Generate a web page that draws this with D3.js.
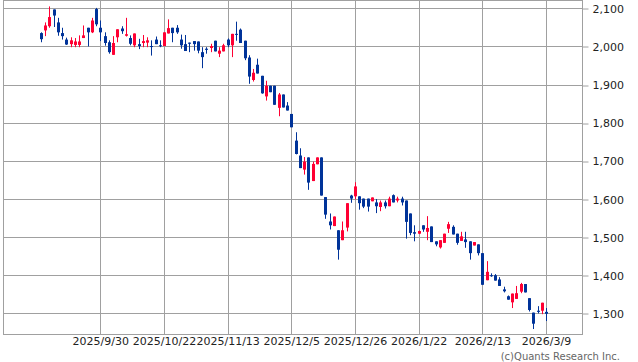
<!DOCTYPE html>
<html><head><meta charset="utf-8">
<script src="https://cdn.jsdelivr.net/npm/d3@7"></script>
<style>
html,body{margin:0;padding:0;background:#fff;}
svg{display:block;font-family:"DejaVu Sans",sans-serif;}
</style></head>
<body>
<svg id="chart" width="638" height="362"></svg>
<script>
const dates = [
"2025/9/8","2025/9/9","2025/9/10","2025/9/11","2025/9/12","2025/9/16","2025/9/17","2025/9/18","2025/9/19","2025/9/22",
"2025/9/24","2025/9/25","2025/9/26","2025/9/29","2025/9/30","2025/10/1","2025/10/2","2025/10/3","2025/10/6","2025/10/7",
"2025/10/8","2025/10/9","2025/10/10","2025/10/14","2025/10/15","2025/10/16","2025/10/17","2025/10/20","2025/10/21","2025/10/22",
"2025/10/23","2025/10/24","2025/10/27","2025/10/28","2025/10/29","2025/10/30","2025/10/31","2025/11/4","2025/11/5","2025/11/6",
"2025/11/7","2025/11/10","2025/11/11","2025/11/12","2025/11/13","2025/11/14","2025/11/17","2025/11/18","2025/11/19","2025/11/20",
"2025/11/21","2025/11/25","2025/11/26","2025/11/27","2025/11/28","2025/12/1","2025/12/2","2025/12/3","2025/12/4","2025/12/5",
"2025/12/8","2025/12/9","2025/12/10","2025/12/11","2025/12/12","2025/12/15","2025/12/16","2025/12/17","2025/12/18","2025/12/19",
"2025/12/22","2025/12/23","2025/12/24","2025/12/25","2025/12/26","2025/12/29","2025/12/30","2026/1/5","2026/1/6","2026/1/7",
"2026/1/8","2026/1/9","2026/1/13","2026/1/14","2026/1/15","2026/1/16","2026/1/19","2026/1/20","2026/1/21","2026/1/22",
"2026/1/23","2026/1/26","2026/1/27","2026/1/28","2026/1/29","2026/1/30","2026/2/2","2026/2/3","2026/2/4","2026/2/5",
"2026/2/6","2026/2/9","2026/2/10","2026/2/12","2026/2/13","2026/2/16","2026/2/17","2026/2/18","2026/2/19","2026/2/20",
"2026/2/24","2026/2/25","2026/2/26","2026/2/27","2026/3/2","2026/3/3","2026/3/4","2026/3/5","2026/3/6","2026/3/9"];

const open = [
2035,2042,2053,2097,2063,2035,2018,2006,2004,2004, 2022,2049,2037,2098,2049,2027,2011,1978,2024,2047,
2028,2022,2003,2006,2009,2010,2001,2018,2003,2001, 2034,2049,2049,2018,2006,2010,2014,2013,1985,1994,
1996,2015,1981,1987,2018,2003,2033,2044,2015,1971, 1912,1952,1923,1869,1897,1897,1839,1874,1845,1823,
1753,1714,1677,1709,1647,1691,1709,1605,1541,1529, 1518,1492,1525,1609,1607,1607,1601,1601,1594,1591,
1579,1591,1581,1610,1596,1601,1596,1562,1513,1509, 1531,1514,1528,1489,1473,1485,1522,1527,1509,1490,
1494,1489,1478,1481,1458,1387,1400,1400,1389,1363, 1345,1329,1338,1357,1377,1340,1302,1307,1307,1304];
const high = [
2037,2063,2105,2097,2075,2049,2023,2024,2022,2029, 2055,2049,2075,2101,2068,2037,2016,2027,2045,2053,
2075,2029,2034,2020,2030,2024,2016,2026,2016,2037, 2071,2049,2056,2031,2030,2010,2014,2013,1998,1998,
2007,2015,1998,2007,2021,2033,2065,2047,2015,1977, 1941,1968,1923,1910,1897,1897,1878,1874,1854,1823,
1775,1733,1710,1709,1698,1709,1709,1605,1562,1554, 1518,1541,1589,1611,1644,1607,1601,1601,1604,1600,
1596,1596,1606,1612,1606,1606,1596,1562,1531,1517, 1531,1555,1528,1489,1492,1509,1540,1531,1509,1514,
1514,1489,1487,1481,1458,1437,1405,1403,1395,1370, 1347,1352,1372,1380,1377,1340,1302,1319,1328,1314];
const low = [
2011,2027,2049,2051,2028,2018,2004,1998,1998,1998, 2022,2000,2035,2053,2014,2002,1981,1978,2011,2033,
2026,2003,1998,1993,1998,1998,1976,2006,1998,2001, 2034,2011,2033,1994,1988,1985,1989,1982,1943,1981,
1985,1987,1972,1987,1998,1972,2015,2009,1964,1902, 1908,1929,1876,1858,1880,1847,1817,1840,1832,1788,
1717,1681,1664,1624,1647,1691,1609,1548,1520,1529, 1441,1492,1515,1590,1599,1572,1576,1567,1594,1563,
1568,1575,1581,1591,1591,1583,1496,1505,1489,1508, 1514,1492,1487,1476,1470,1485,1511,1507,1480,1490,
1472,1441,1478,1452,1375,1387,1396,1386,1372,1355, 1336,1314,1338,1353,1355,1305,1259,1300,1298,1280];
const close = [
2019,2055,2077,2081,2037,2027,2005,2016,2013,2013, 2029,2037,2068,2058,2037,2009,1985,2009,2045,2040,
2032,2007,2034,2001,2014,2016,1999,2006,2001,2037, 2048,2035,2037,2003,1988,2007,2006,1989,1972,1991,
2001,1987,1989,2003,2003,2033,2031,2009,1969,1921, 1931,1929,1877,1897,1880,1847,1874,1840,1832,1788,
1718,1681,1698,1643,1692,1709,1609,1559,1531,1554, 1467,1518,1589,1601,1633,1589,1580,1580,1604,1581,
1591,1581,1601,1591,1601,1591,1540,1511,1509,1516, 1520,1524,1487,1481,1492,1509,1534,1507,1485,1502,
1487,1458,1487,1458,1375,1409,1398,1386,1372,1358, 1336,1352,1353,1377,1355,1309,1273,1304,1328,1299];

const yTicks = [1300,1400,1500,1600,1700,1800,1900,2000,2100];
const xTickDates = ["2025/9/30","2025/10/22","2025/11/13","2025/12/5","2025/12/26","2026/1/22","2026/2/13","2026/3/9"];

const UP = "#ff0033", DOWN = "#003399", GRID = "#a0a0a0";
const L = 3.5, R = 582.5, T = 0.5, B = 334.5;

const svg = d3.select("#chart");
const x = d3.scalePoint().domain(dates).range([40.9, 546]);
const y = d3.scaleLinear().domain([1300, 2100]).range([313.4, 8.3]);
const snap = v => Math.round(v) + 0.5;

// gridlines
svg.append("g").selectAll("line").data(yTicks).join("line")
  .attr("x1", L).attr("x2", R).attr("y1", d => snap(y(d))).attr("y2", d => snap(y(d)))
  .attr("stroke", GRID).attr("stroke-width", 1);
svg.append("g").selectAll("line").data(xTickDates).join("line")
  .attr("y1", T).attr("y2", B).attr("x1", d => snap(x(d))).attr("x2", d => snap(x(d)))
  .attr("stroke", GRID).attr("stroke-width", 1);

// frame
svg.append("rect").attr("x", L).attr("y", T).attr("width", R - L).attr("height", B - T)
  .attr("fill", "none").attr("stroke", GRID).attr("stroke-width", 1);

// candles
const data = dates.map((d, i) => ({d, o: open[i], h: high[i], l: low[i], c: close[i]}));
const g = svg.append("g");
const cg = g.selectAll("g").data(data).join("g")
  .attr("fill", d => d.c >= d.o ? UP : DOWN)
  .attr("stroke", d => d.c >= d.o ? UP : DOWN);
cg.append("line")
  .attr("x1", d => Math.round(x(d.d)) + 0.5).attr("x2", d => Math.round(x(d.d)) + 0.5)
  .attr("y1", d => y(d.h)).attr("y2", d => y(d.l)).attr("stroke-width", 1);
cg.append("rect")
  .attr("x", d => Math.round(x(d.d)) - 1).attr("width", 3)
  .attr("y", d => y(Math.max(d.o, d.c)))
  .attr("height", d => Math.max(1, y(Math.min(d.o, d.c)) - y(Math.max(d.o, d.c))))
  .attr("stroke", "none");

// right axis
const yAxis = d3.axisRight(y).tickValues(yTicks).tickFormat(d3.format(",")).tickSize(6).tickPadding(4);
const ya = svg.append("g").attr("transform", `translate(${R},0.5)`).call(yAxis);
ya.select(".domain").remove();
ya.selectAll("line").attr("stroke", GRID).attr("transform", d => `translate(0,${snap(y(d)) - 0.5 - y(d)})`);
ya.selectAll("text").attr("font-size", 11).attr("font-family", "DejaVu Sans").attr("fill", "#222");

// bottom axis
const xAxis = d3.axisBottom(x).tickValues(xTickDates).tickSize(0).tickPadding(3);
const xa = svg.append("g").attr("transform", `translate(0,${B})`).call(xAxis);
xa.select(".domain").remove();
xa.selectAll("text").attr("font-size", 11).attr("font-family", "DejaVu Sans").attr("fill", "#222");

svg.append("text").attr("x", 620).attr("y", 360).attr("text-anchor", "end")
  .attr("font-size", 10).attr("font-family", "DejaVu Sans").attr("fill", "#666")
  .text("(c)Quants Research Inc.");
</script>
</body></html>
